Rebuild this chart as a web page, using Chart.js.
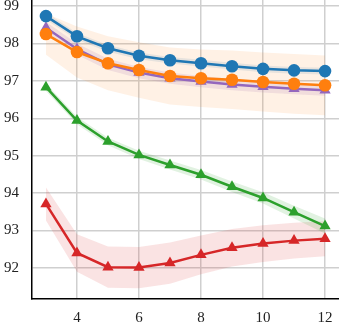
<!DOCTYPE html>
<html lang="en">
<head>
    <meta charset="UTF-8">
    <title>Chart</title>
    <style>
        html, body { margin: 0; padding: 0; background: #fff; }
        #wrap { width: 339px; height: 329px; }
    </style>
    <script src="https://cdn.jsdelivr.net/npm/chart.js"></script>
</head>
<body>
    <div id="wrap"><canvas id="myChart" width="339" height="329"></canvas></div>
    <script>
        // x positions and tick labels
        const steps = [3, 4, 5, 6, 7, 8, 9, 10, 11, 12];
        const xTicks = [4, 6, 8, 10, 12];
        const yTicks = [92, 93, 94, 95, 96, 97, 98, 99];

        // series means
        const blueVals   = [98.73, 98.19, 97.87, 97.67, 97.55, 97.47, 97.39, 97.32, 97.28, 97.26];
        const orangeVals = [98.25, 97.77, 97.47, 97.29, 97.13, 97.07, 97.03, 96.97, 96.92, 96.88];
        const purpleVals = [98.42, 97.85, 97.44, 97.22, 97.07, 96.98, 96.90, 96.84, 96.79, 96.75];
        const greenVals  = [96.83, 95.94, 95.38, 95.02, 94.75, 94.49, 94.17, 93.87, 93.49, 93.12];
        const redVals    = [93.71, 92.40, 92.02, 92.01, 92.13, 92.35, 92.54, 92.65, 92.73, 92.78];

        // spread of the shaded bands
        const blueSpread   = [0.10, 0.09, 0.09, 0.09, 0.09, 0.09, 0.09, 0.09, 0.09, 0.09];
        const orangeSpread = [0.55, 0.68, 0.72, 0.74, 0.76, 0.77, 0.78, 0.79, 0.80, 0.80];
        const purpleSpread = [0.15, 0.15, 0.15, 0.15, 0.15, 0.15, 0.15, 0.15, 0.15, 0.15];
        const greenSpread  = [0.10, 0.10, 0.10, 0.11, 0.12, 0.13, 0.14, 0.15, 0.17, 0.20];
        const redSpread    = [0.44, 0.50, 0.55, 0.55, 0.55, 0.52, 0.50, 0.49, 0.48, 0.47];

        const toPts = vals => steps.map((x, i) => ({ x: x, y: vals[i] }));

        function band(vals, spread, rgb, alpha) {
            const lo = vals.map((v, i) => v - spread[i]);
            const hi = vals.map((v, i) => v + spread[i]);
            return [
                { data: toPts(lo), borderWidth: 0, pointRadius: 0, fill: false, order: 10 },
                { data: toPts(hi), borderWidth: 0, pointRadius: 0, fill: '-1',
                  backgroundColor: `rgba(${rgb},${alpha})`, order: 10 }
            ];
        }

        function line(vals, color, marker, order) {
            return {
                data: toPts(vals),
                borderColor: color,
                backgroundColor: color,
                borderWidth: 2.5,
                pointStyle: marker,
                pointRadius: marker === 'triangle' ? 6.5 : 6.3,
                pointBorderWidth: 0,
                fill: false,
                order: order
            };
        }

        const datasets = [
            ...band(orangeVals, orangeSpread, '255,127,14', 0.11),
            ...band(blueVals, blueSpread, '31,119,180', 0.12),
            ...band(purpleVals, purpleSpread, '148,103,189', 0.15),
            ...band(greenVals, greenSpread, '44,160,44', 0.14),
            ...band(redVals, redSpread, '214,39,40', 0.13),
            line(redVals, '#d62728', 'triangle', 5),
            line(greenVals, '#2ca02c', 'triangle', 4),
            line(purpleVals, '#9467bd', 'triangle', 3),
            line(orangeVals, '#ff7f0e', 'circle', 2),
            line(blueVals, '#1f77b4', 'circle', 1)
        ];

        const tickFont = { family: 'Liberation Serif', size: 15 };

        new Chart(document.getElementById('myChart').getContext('2d'), {
            type: 'line',
            data: { datasets: datasets },
            options: {
                responsive: false,
                animation: false,
                layout: { padding: 0, autoPadding: false },
                plugins: { legend: { display: false }, tooltip: { enabled: false } },
                elements: { line: { tension: 0 } },
                scales: {
                    x: {
                        type: 'linear',
                        min: 2.55,
                        max: 12.45,
                        afterBuildTicks: s => { s.ticks = xTicks.map(v => ({ value: v })); },
                        afterFit: s => { s.height = 30; s.paddingLeft = 0; s.paddingRight = 0; },
                        grid: { color: '#cfcfcf', lineWidth: 1.5, drawTicks: false },
                        border: { color: '#000', width: 1.5 },
                        ticks: { font: tickFont, color: '#222', padding: 10, maxRotation: 0 }
                    },
                    y: {
                        min: 91.17,
                        max: 99.16,
                        afterBuildTicks: s => { s.ticks = yTicks.map(v => ({ value: v })); },
                        afterFit: s => { s.width = 32; s.paddingTop = 0; s.paddingBottom = 0; },
                        grid: { color: '#cfcfcf', lineWidth: 1.5, drawTicks: false },
                        border: { color: '#000', width: 1.5 },
                        ticks: { font: tickFont, color: '#222', padding: 13 }
                    }
                }
            }
        });
    </script>
</body>
</html>
